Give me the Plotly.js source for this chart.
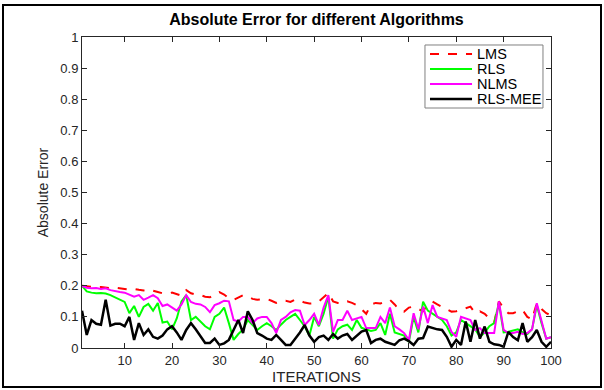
<!DOCTYPE html>
<html>
<head>
<meta charset="utf-8">
<script src="https://cdn.plot.ly/plotly-3.0.1.min.js"></script>
<style>
html,body{margin:0;padding:0;background:#fff;}
#wrap{position:relative;width:604px;height:390px;}
#chart{position:absolute;left:0;top:0;width:604px;height:390px;}
#frame{position:absolute;left:2px;top:4px;width:596px;height:380px;border:2px solid #000;pointer-events:none;}
</style>
</head>
<body>
<div id="wrap"><div id="chart"></div><div id="frame"></div></div>
<script>
const iterations = Array.from({length:100},(_,i)=>i+1);
const lms = [0.200,0.198,0.196,0.195,0.196,0.194,0.192,0.194,0.193,0.190,
0.188,0.190,0.187,0.185,0.188,0.183,0.180,0.176,0.175,0.178,
0.172,0.168,0.186,0.176,0.172,0.170,0.165,0.163,0.172,0.180,
0.172,0.160,0.155,0.162,0.170,0.165,0.158,0.155,0.156,0.158,
0.152,0.145,0.150,0.152,0.148,0.156,0.152,0.146,0.143,0.144,
0.150,0.165,0.177,0.150,0.145,0.144,0.150,0.145,0.138,0.125,
0.110,0.140,0.145,0.143,0.148,0.155,0.140,0.122,0.117,0.130,
0.133,0.125,0.118,0.140,0.149,0.140,0.133,0.125,0.117,0.118,
0.122,0.128,0.133,0.112,0.118,0.110,0.095,0.082,0.150,0.128,
0.112,0.112,0.118,0.122,0.100,0.092,0.144,0.125,0.112,0.105];
const rls = [0.200,0.182,0.178,0.176,0.177,0.175,0.170,0.162,0.155,0.148,
0.112,0.135,0.100,0.132,0.142,0.120,0.145,0.082,0.085,0.060,
0.095,0.150,0.170,0.090,0.100,0.085,0.070,0.060,0.100,0.110,
0.130,0.080,0.026,0.045,0.060,0.090,0.075,0.058,0.070,0.080,
0.070,0.058,0.075,0.090,0.100,0.110,0.090,0.070,0.040,0.100,
0.070,0.110,0.165,0.030,0.060,0.070,0.075,0.058,0.090,0.065,
0.060,0.055,0.058,0.080,0.042,0.110,0.050,0.045,0.040,0.020,
0.100,0.050,0.149,0.120,0.110,0.100,0.090,0.070,0.040,0.050,
0.090,0.080,0.070,0.060,0.036,0.050,0.070,0.080,0.144,0.050,
0.052,0.055,0.060,0.050,0.045,0.060,0.138,0.080,0.030,0.035];
const nlms = [0.200,0.194,0.192,0.193,0.190,0.192,0.186,0.182,0.180,0.178,
0.172,0.165,0.170,0.155,0.162,0.170,0.160,0.135,0.140,0.130,
0.120,0.140,0.170,0.148,0.142,0.140,0.132,0.115,0.138,0.144,
0.152,0.150,0.090,0.085,0.100,0.100,0.080,0.095,0.100,0.100,
0.080,0.048,0.090,0.100,0.115,0.122,0.120,0.074,0.090,0.110,
0.074,0.130,0.170,0.052,0.090,0.090,0.120,0.090,0.095,0.100,
0.064,0.064,0.064,0.100,0.080,0.130,0.070,0.060,0.048,0.026,
0.112,0.060,0.133,0.080,0.138,0.100,0.095,0.090,0.052,0.036,
0.100,0.095,0.090,0.058,0.064,0.048,0.048,0.048,0.150,0.058,
0.048,0.048,0.052,0.045,0.048,0.060,0.144,0.090,0.030,0.035];
const rlsmee = [0.120,0.042,0.090,0.078,0.075,0.155,0.072,0.078,0.078,0.070,
0.100,0.026,0.080,0.042,0.060,0.036,0.030,0.040,0.060,0.070,
0.050,0.026,0.058,0.080,0.060,0.036,0.016,0.016,0.030,0.010,
0.015,0.026,0.058,0.090,0.048,0.118,0.090,0.048,0.040,0.030,
0.026,0.042,0.026,0.010,0.010,0.030,0.050,0.074,0.040,0.020,
0.035,0.040,0.026,0.045,0.030,0.040,0.045,0.026,0.040,0.053,
0.058,0.016,0.026,0.030,0.020,0.016,0.010,0.025,0.030,0.022,
0.010,0.030,0.032,0.069,0.064,0.060,0.058,0.036,0.004,0.026,
0.010,0.085,0.020,0.090,0.030,0.069,0.020,0.012,0.010,0.004,
0.052,0.035,0.025,0.080,0.020,0.035,0.058,0.020,0.004,0.020];
const names = ['LMS','RLS','NLMS','RLS-MEE'];
const colors = ['#ff0000','#00ff00','#ff00ff','#000000'];
const dashes = ['dash','solid','solid','solid'];
const widths = [2,2,2,2.5];
const series = [lms,rls,nlms,rlsmee];
const xTicks = [10,20,30,40,50,60,70,80,90,100];
const yTicks = [0,0.1,0.2,0.3,0.4,0.5,0.6,0.7,0.8,0.9,1];
const yTickText = ['0','0.1','0.2','0.3','0.4','0.5','0.6','0.7','0.8','0.9','1'];

const traces = series.map((s,i)=>({x:iterations,y:s,name:names[i],mode:'lines',showlegend:false,
  line:{color:colors[i],width:widths[i],dash:dashes[i]}}));

// MATLAB-style legend box (paper coordinates)
const shapes = [{type:'rect',xref:'paper',yref:'paper',x0:0.7313,x1:0.9829,y0:0.7717,y1:0.9743,
  line:{color:'#808080',width:1},fillcolor:'#ffffff',layer:'above'}];
const annotations = [];
const rowY = [0.9453,0.8971,0.8489,0.8006];
names.forEach((n,i)=>{
  shapes.push({type:'line',xref:'paper',yref:'paper',x0:0.742,x1:0.8316,y0:rowY[i],y1:rowY[i],
    line:{color:colors[i],width:widths[i],dash:dashes[i]},layer:'above'});
  annotations.push({xref:'paper',yref:'paper',x:0.839,y:rowY[i],xanchor:'left',yanchor:'middle',
    text:n,showarrow:false,font:{size:14.5,color:'#000'}});
});

const axisFont = {family:'Liberation Sans, Arial, sans-serif',size:13,color:'#262626'};
const layout = {
 width:604,height:390,
 margin:{l:82,r:53,t:37,b:42},
 paper_bgcolor:'#fff',plot_bgcolor:'#fff',
 font:{family:'Liberation Sans, Arial, sans-serif',color:'#262626'},
 title:{text:'<b>Absolute Error for different Algorithms</b>',x:0.524,xanchor:'center',y:0.95,yanchor:'middle',font:{size:16,color:'#000'}},
 xaxis:{range:[1,100],tickvals:xTicks,ticks:'inside',ticklen:5,tickcolor:'#262626',showline:true,linecolor:'#262626',linewidth:1,mirror:'ticks',showgrid:false,zeroline:false,tickfont:axisFont,
   title:{text:'ITERATIONS',font:{size:15,color:'#262626'},standoff:4}},
 yaxis:{range:[0,1],tickvals:yTicks,ticktext:yTickText,ticks:'inside',ticklen:5,tickcolor:'#262626',showline:true,linecolor:'#262626',linewidth:1,mirror:'ticks',showgrid:false,zeroline:false,tickfont:axisFont,
   title:{text:'Absolute Error',font:{size:14,color:'#262626'},standoff:8}},
 showlegend:false,
 shapes:shapes,
 annotations:annotations
};
Plotly.newPlot('chart',traces,layout,{displayModeBar:false,staticPlot:true});
</script>
</body>
</html>
